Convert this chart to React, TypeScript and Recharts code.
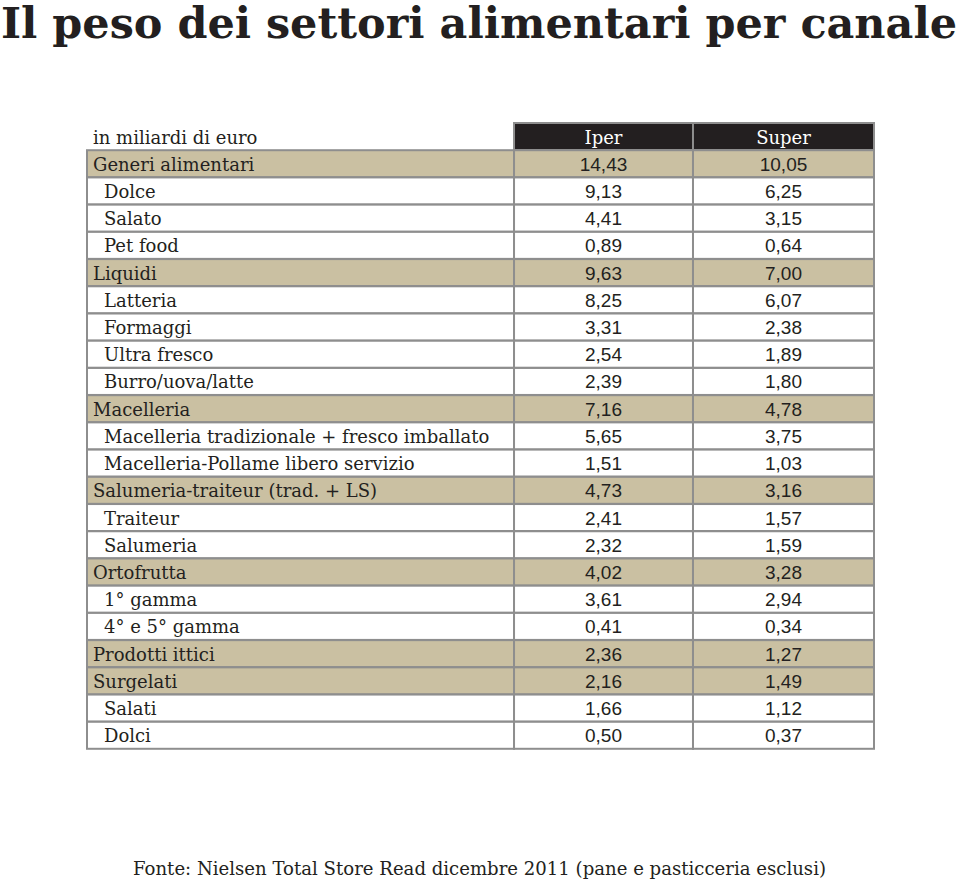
import React from "react";
import { BarChart, Bar, XAxis, YAxis } from "recharts";

// rows of the table, top to bottom
const categories = [
  "Generi alimentari",
  "Dolce",
  "Salato",
  "Pet food",
  "Liquidi",
  "Latteria",
  "Formaggi",
  "Ultra fresco",
  "Burro/uova/latte",
  "Macelleria",
  "Macelleria tradizionale + fresco imballato",
  "Macelleria-Pollame libero servizio",
  "Salumeria-traiteur (trad. + LS)",
  "Traiteur",
  "Salumeria",
  "Ortofrutta",
  "1° gamma",
  "4° e 5° gamma",
  "Prodotti ittici",
  "Surgelati",
  "Salati",
  "Dolci"
];

const iperValues = [
  14.43, 9.13, 4.41, 0.89, 9.63, 8.25, 3.31, 2.54, 2.39, 7.16, 5.65, 1.51, 4.73, 2.41, 2.32, 4.02, 3.61, 0.41,
  2.36, 2.16, 1.66, 0.5
];

const superValues = [
  10.05, 6.25, 3.15, 0.64, 7.0, 6.07, 2.38, 1.89, 1.8, 4.78, 3.75, 1.03, 3.16, 1.57, 1.59, 3.28, 2.94, 0.34,
  1.27, 1.49, 1.12, 0.37
];

// rows shown with the tan background
const groupRows = [
  "Generi alimentari",
  "Liquidi",
  "Macelleria",
  "Salumeria-traiteur (trad. + LS)",
  "Ortofrutta",
  "Prodotti ittici",
  "Surgelati"
];

const headerLabels = ["in miliardi di euro", "Iper", "Super"];

const TITLE = "Il peso dei settori alimentari per canale";
const SOURCE = "Fonte: Nielsen Total Store Read dicembre 2011 (pane e pasticceria esclusi)";

const TAN = "#cac0a2";
const DARK = "#231f20";
const GRID = "#8e8e8e";
const SERIF = '"DejaVu Serif", serif';
const TITLE_FONT = '"DejaVu Serif Condensed", "DejaVu Serif", serif';
const SANS = '"Liberation Sans", Arial, sans-serif';

const fmt = (v: number) => v.toFixed(2).replace(".", ",");

const rows = [
  { label: headerLabels[0], iper: headerLabels[1], super: headerLabels[2], kind: "header" },
  ...categories.map((c, i) => ({
    label: c,
    iper: fmt(iperValues[i]),
    super: fmt(superValues[i]),
    kind: groupRows.includes(c) ? "group" : "item"
  }))
];

// column widths as shares of the table width
const labelCol = 54.26;
const iperCol = 22.74;
const superCol = 23.0;

// eslint-disable-next-line @typescript-eslint/no-explicit-any
const LabelCell = (p: any) => {
  const { x, y, width, height, payload } = p;
  const kind = payload.kind;
  return (
    <g>
      {kind !== "header" && (
        <rect
          x={x}
          y={y}
          width={width}
          height={height}
          fill={kind === "group" ? TAN : "#ffffff"}
          stroke={GRID}
          strokeWidth={2}
        />
      )}
      <text
        x={x + (kind === "item" ? 17 : 6)}
        y={y + height / 2 + 7}
        fontFamily={SERIF}
        fontSize={18}
        fill={DARK}
      >
        {payload.label}
      </text>
    </g>
  );
};

const makeValueCell = (key: "iper" | "super") => {
  // eslint-disable-next-line @typescript-eslint/no-explicit-any
  const ValueCell = (p: any) => {
    const { x, y, width, height, payload } = p;
    const kind = payload.kind;
    const header = kind === "header";
    return (
      <g>
        <rect
          x={x}
          y={y}
          width={width}
          height={height}
          fill={header ? DARK : kind === "group" ? TAN : "#ffffff"}
          stroke={GRID}
          strokeWidth={2}
        />
        <text
          x={x + width / 2}
          y={y + height / 2 + 7}
          textAnchor="middle"
          fontFamily={header ? SERIF : SANS}
          fontSize={header ? 18 : 19}
          fill={header ? "#ffffff" : DARK}
        >
          {payload[key]}
        </text>
      </g>
    );
  };
  return ValueCell;
};

const IperCell = makeValueCell("iper");
const SuperCell = makeValueCell("super");

export default function App() {
  return (
    <div style={{ position: "absolute", left: 0, top: 0, width: 960, height: 879, background: "#ffffff" }}>
      <BarChart
        width={960}
        height={879}
        data={rows}
        layout="vertical"
        margin={{ top: 123, right: 86, bottom: 130, left: 87 }}
        barCategoryGap={0}
        barGap={0}
      >
        <XAxis type="number" hide domain={[0, 100]} />
        <YAxis type="category" dataKey="label" hide />
        <Bar dataKey={() => labelCol} stackId="t" shape={LabelCell} isAnimationActive={false} />
        <Bar dataKey={() => iperCol} stackId="t" shape={IperCell} isAnimationActive={false} />
        <Bar dataKey={() => superCol} stackId="t" shape={SuperCell} isAnimationActive={false} />
      </BarChart>
      <svg width={960} height={879} style={{ position: "absolute", left: 0, top: 0, pointerEvents: "none" }}>
        <text
          x={1}
          y={38}
          fontFamily={TITLE_FONT}
          fontWeight="bold"
          fontSize={42}
          fill={DARK}
          textLength={956}
          lengthAdjust="spacingAndGlyphs"
        >
          {TITLE}
        </text>
        <text
          x={133}
          y={875}
          fontFamily={SERIF}
          fontSize={18}
          fill={DARK}
          textLength={693}
          lengthAdjust="spacingAndGlyphs"
        >
          {SOURCE}
        </text>
      </svg>
    </div>
  );
}
